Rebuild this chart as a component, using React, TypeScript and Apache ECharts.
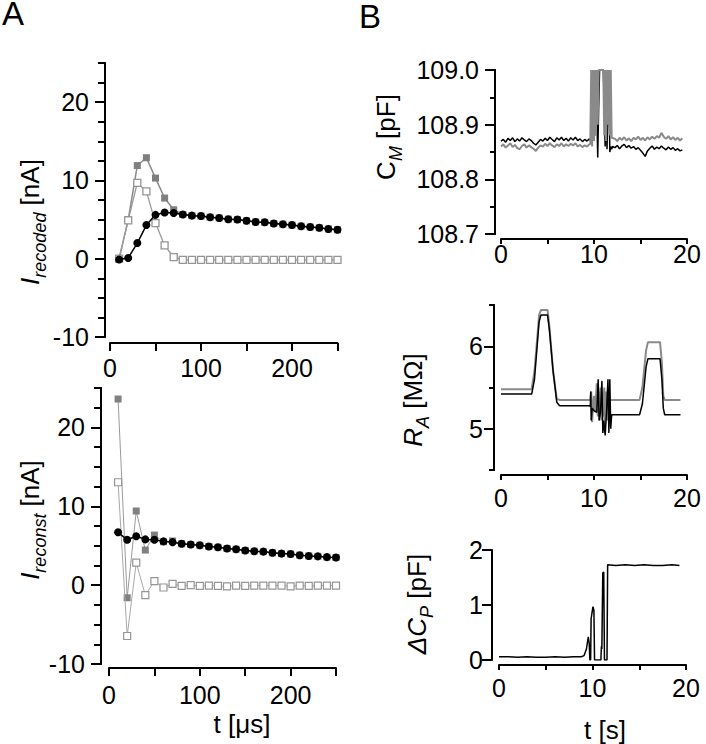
import React, { useEffect, useRef } from "react";
import * as echarts from "echarts";

const FONT = "'Liberation Sans', Arial, sans-serif";

// ---------- Panel A data ----------
const tA = [10, 20, 30, 40, 50, 60, 70, 80, 90, 100, 110, 120, 130, 140, 150, 160, 170, 180, 190, 200, 210, 220, 230, 240, 250];
const recBlack = [-0.1, 0.1, 2.0, 4.3, 5.6, 5.9, 5.85, 5.65, 5.5, 5.45, 5.3, 5.2, 5.05, 5.0, 4.85, 4.7, 4.65, 4.5, 4.4, 4.3, 4.15, 4.05, 3.95, 3.8, 3.7];
const recFilled = [0, 5.0, 11.9, 12.9, 10.3, 7.75, 6.25, 5.65, 5.5, 5.45, 5.3, 5.2, 5.05, 5.0, 4.85, 4.7, 4.65, 4.5, 4.4, 4.3, 4.15, 4.05, 3.95, 3.8, 3.7];
const recOpen = [0, 4.9, 9.7, 8.6, 4.55, 1.7, 0.2, -0.15, -0.15, -0.15, -0.15, -0.15, -0.15, -0.15, -0.15, -0.15, -0.15, -0.15, -0.15, -0.15, -0.15, -0.15, -0.15, -0.15, -0.15];

const conBlack = [6.7, 5.75, 6.2, 5.8, 5.75, 5.55, 5.45, 5.25, 5.15, 5.05, 4.9, 4.8, 4.65, 4.55, 4.4, 4.3, 4.25, 4.1, 4.0, 3.95, 3.8, 3.7, 3.65, 3.55, 3.5];
const conFilled = [23.6, -1.6, 9.4, 4.45, 6.35, 5.5, 5.6, 5.25, 5.15, 5.05, 4.9, 4.8, 4.65, 4.55, 4.4, 4.3, 4.25, 4.1, 4.0, 3.95, 3.8, 3.7, 3.65, 3.55, 3.5];
const conOpen = [13.05, -6.45, 2.85, -1.27, 0.5, -0.3, 0.15, -0.1, 0.0, -0.1, -0.05, -0.1, -0.15, -0.05, -0.1, -0.05, -0.05, -0.05, -0.05, -0.15, -0.05, -0.1, -0.05, -0.05, -0.05];

const yTicksA = [-10, -7.5, -5, -2.5, 0, 2.5, 5, 7.5, 10, 12.5, 15, 17.5, 20, 22.5, 25];
const yLabelsA = [-10, 0, 10, 20];
const xTicksA = [0, 50, 100, 150, 200, 250];
const xLabelsA = [0, 100, 200];

// ---------- Panel B data ----------
const cmTime = [0, 0.25, 0.5, 0.75, 1, 1.25, 1.5, 1.75, 2, 2.25, 2.5, 2.75, 3, 3.25, 3.5, 3.75, 4, 4.25, 4.5, 4.75, 5, 5.25, 5.5, 5.75, 6, 6.25, 6.5, 6.75, 7, 7.25, 7.5, 7.75, 8, 8.25, 8.5, 8.75, 9, 9.25, 9.5,
  9.6, 9.7, 9.8, 9.9, 10, 10.1, 10.2, 10.3, 10.4, 10.5, 10.6, 10.7, 10.8, 10.9, 11, 11.1, 11.2, 11.3, 11.4, 11.5, 11.6, 11.7, 11.8, 11.9, 12,
  12.25, 12.5, 12.75, 13, 13.25, 13.5, 13.75, 14, 14.25, 14.5, 14.75, 15, 15.25, 15.5, 15.75, 16, 16.25, 16.5, 16.75, 17, 17.25, 17.5, 17.75, 18, 18.25, 18.5, 18.75, 19, 19.25, 19.5];
const cmBlack = [108.870, 108.873, 108.868, 108.875, 108.871, 108.876, 108.869, 108.874, 108.870, 108.876, 108.872, 108.869, 108.874, 108.871, 108.866, 108.863, 108.868, 108.873, 108.870, 108.875, 108.871, 108.877, 108.873, 108.869, 108.876, 108.872, 108.877, 108.871, 108.875, 108.870, 108.876, 108.872, 108.877, 108.871, 108.874, 108.869, 108.873, 108.870, 108.874,
  108.872, 108.876, 109.0, 108.87, 109.0, 108.88, 109.0, 108.93, 108.84, 108.93, 109.0, 109.0, 109.0, 109.0, 109.0, 108.94, 108.86, 108.94, 108.855, 108.93, 109.0, 108.85, 108.86, 108.855, 108.86,
  108.858, 108.862, 108.856, 108.861, 108.864, 108.858, 108.862, 108.857, 108.860, 108.855, 108.858, 108.853, 108.848, 108.842, 108.852, 108.857, 108.861, 108.855, 108.859, 108.856, 108.861, 108.857, 108.854, 108.859, 108.855, 108.858, 108.853, 108.856, 108.852, 108.854];
const cmGray = [108.860, 108.864, 108.858, 108.862, 108.866, 108.859, 108.863, 108.857, 108.855, 108.861, 108.864, 108.858, 108.862, 108.859, 108.856, 108.852, 108.858, 108.862, 108.860, 108.865, 108.861, 108.866, 108.862, 108.859, 108.864, 108.861, 108.866, 108.860, 108.864, 108.861, 108.865, 108.862, 108.866, 108.860, 108.863, 108.859, 108.862, 108.860, 108.864,
  108.865, 109.0, 108.86, 109.0, 108.87, 109.0, 108.88, 109.0, 108.9, 109.0, 109.0, 109.0, 109.0, 109.0, 109.0, 108.88, 109.0, 108.87, 109.0, 108.9, 109.0, 108.88, 109.0, 108.875, 108.876,
  108.874, 108.870, 108.876, 108.872, 108.877, 108.871, 108.875, 108.870, 108.876, 108.873, 108.878, 108.872, 108.876, 108.871, 108.877, 108.873, 108.878, 108.874, 108.879, 108.876, 108.885, 108.878, 108.874, 108.879, 108.873, 108.877, 108.872, 108.876, 108.871, 108.875];
const cmTicks = [108.7, 108.75, 108.8, 108.85, 108.9, 108.95, 109.0];
const cmLabels = [108.7, 108.8, 108.9, 109.0];

const raTimeBlack = [0, 3.3, 3.6, 4.1, 4.3, 5.0, 5.2, 5.6, 6.0, 6.3,
  9.5, 9.6, 9.65, 9.7, 9.8, 10.0, 10.3, 10.45, 10.55, 10.7, 10.85, 10.95, 11.05, 11.2, 11.35, 11.5, 11.6, 11.7, 11.8, 11.9, 12.0,
  14.9, 15.2, 15.6, 15.8, 17.1, 17.3, 17.45, 17.6, 19.3];
const raBlack = [5.42, 5.42, 5.6, 6.3, 6.38, 6.38, 6.2, 5.7, 5.32, 5.28,
  5.28, 5.27, 5.45, 5.1, 5.25, 5.22, 5.2, 5.6, 5.1, 5.2, 5.58, 4.95, 5.1, 4.92, 5.2, 5.6, 4.95, 5.6, 5.0, 5.17, 5.17,
  5.17, 5.3, 5.75, 5.85, 5.85, 5.6, 5.25, 5.17, 5.17];
const raTimeGray = [0, 3.3, 3.6, 4.1, 4.3, 5.0, 5.2, 5.6, 6.0, 6.3,
  9.5, 9.6, 9.7, 9.8, 9.9, 10.0, 10.1, 10.2, 10.3, 10.4, 10.5, 10.6, 10.7, 10.8, 10.9, 11.0, 11.1, 11.2, 11.3, 11.4, 11.5, 11.6, 11.7, 11.8, 11.9, 12.0,
  14.9, 15.2, 15.6, 15.8, 17.1, 17.3, 17.45, 17.6, 19.3];
const raGray = [5.48, 5.48, 5.7, 6.38, 6.44, 6.44, 6.25, 5.7, 5.36, 5.35,
  5.35, 5.35, 5.45, 5.08, 5.3, 5.4, 5.2, 5.35, 5.55, 5.15, 5.45, 5.2, 5.5, 5.1, 5.45, 5.15, 5.5, 5.05, 5.45, 5.1, 5.5, 5.15, 5.35, 5.35, 5.35, 5.35,
  5.35, 5.5, 5.95, 6.05, 6.05, 5.8, 5.4, 5.35, 5.35];
const raTicks = [4.5, 5.5, 6.5];
const raLabels = [5, 6];

const dcpTime = [0, 1, 2, 3, 4, 5, 6, 7, 8, 8.8, 9.1, 9.35, 9.55, 9.65, 9.72, 9.8, 9.85, 10.05, 10.15, 10.22, 10.9, 10.95, 11.0, 11.1, 11.2, 11.28, 11.55, 11.62, 12.5, 13.5, 14.5, 15.5, 16.5, 17.5, 18.5, 19.3];
const dcpVal = [0.06, 0.06, 0.05, 0.06, 0.05, 0.05, 0.06, 0.05, 0.06, 0.06, 0.08, 0.2, 0.42, 0.3, 0, 0, 0.75, 0.97, 0.9, 0, 0, 0.25, 0.2, 1.58, 1.6, 0, 0, 1.73, 1.72, 1.73, 1.72, 1.73, 1.72, 1.72, 1.73, 1.72];
const dcpTicks = [0, 1, 2];

const xTicksB = [0, 5, 10, 15, 20];
const xLabelsB = [0, 10, 20];

const zip = (xs: number[], ys: number[]) => xs.map((x, i) => [x, ys[i]]);

const lbl = { color: "#000", fontSize: 25, fontFamily: FONT };
const axLine = { show: true, onZero: false, lineStyle: { color: "#000", width: 2 } };

function xAxisOf(grid: number, min: number, max: number, ticks: number[], labels: number[], offset: number, tickLen: number, margin: number) {
  return {
    type: "value", gridIndex: grid, min, max, offset, position: "bottom",
    axisLine: axLine,
    axisTick: { show: true, customValues: ticks, length: tickLen, lineStyle: { color: "#000", width: 2 } },
    axisLabel: { ...lbl, customValues: labels, margin },
    splitLine: { show: false },
  };
}
function yMinor(grid: number, min: number, max: number, ticks: number[], offset: number, len: number) {
  return {
    type: "value", gridIndex: grid, min, max, offset, position: "left",
    axisLine: axLine,
    axisTick: { show: true, customValues: ticks, length: len, lineStyle: { color: "#000", width: 2 } },
    axisLabel: { show: false },
    splitLine: { show: false },
  };
}
function yMajor(grid: number, min: number, max: number, ticks: number[], offset: number, len: number, margin: number, fmt?: (v: number) => string) {
  return {
    type: "value", gridIndex: grid, min, max, offset, position: "left",
    axisLine: axLine,
    axisTick: { show: true, customValues: ticks, length: len, lineStyle: { color: "#000", width: 2 } },
    axisLabel: { ...lbl, customValues: ticks, margin, formatter: fmt },
    splitLine: { show: false },
  };
}

const richStyles = {
  m: { fontSize: 26, fontFamily: FONT, color: "#000", lineHeight: 32, verticalAlign: "top" },
  mi: { fontSize: 26, fontFamily: FONT, fontStyle: "italic", color: "#000", lineHeight: 32, verticalAlign: "top" },
  s: { fontSize: 18, fontFamily: FONT, fontStyle: "italic", color: "#000", lineHeight: 18, padding: [14, 0, 0, 0], verticalAlign: "top" },
};

function vTitle(x: number, y: number, text: string) {
  return {
    type: "text", x, y, rotation: Math.PI / 2,
    style: { text, rich: richStyles, align: "center", verticalAlign: "middle" },
  };
}

export default function App() {
  const ref = useRef<HTMLDivElement>(null);
  useEffect(() => {
    const chart = echarts.init(ref.current!, null, { renderer: "svg" });
    const option: any = {
      animation: false,
      backgroundColor: "#fff",
      textStyle: { fontFamily: FONT },
      grid: [
        { left: 110, top: 63, width: 227.5, height: 274 },
        { left: 109, top: 388, width: 227, height: 276 },
        { left: 501, top: 70, width: 186, height: 164 },
        { left: 501, top: 305, width: 186, height: 165 },
        { left: 499, top: 550, width: 187, height: 110 },
      ],
      xAxis: [
        xAxisOf(0, 0, 250, xTicksA, xLabelsA, 6, 8, 12),
        xAxisOf(1, 0, 250, xTicksA, xLabelsA, 4, 8, 14),
        xAxisOf(2, 0, 20, xTicksB, xLabelsB, 5, 5, 2),
        xAxisOf(3, 0, 20, xTicksB, xLabelsB, 5, 5, 10),
        xAxisOf(4, 0, 20, xTicksB, xLabelsB, 5, 5, 10),
      ],
      yAxis: [
        yMinor(0, -10, 25, yTicksA, 5, 7),
        yMajor(0, -10, 25, yLabelsA, 5, 10, 16),
        yMinor(1, -10, 25, yTicksA, 8, 7),
        yMajor(1, -10, 25, yLabelsA, 8, 10, 16),
        yMinor(2, 108.7, 109.0, cmTicks, 6, 5),
        yMajor(2, 108.7, 109.0, cmLabels, 6, 10, 16, (v: number) => v.toFixed(1)),
        yMinor(3, 4.5, 6.5, raTicks, 7, 5),
        yMajor(3, 4.5, 6.5, raLabels, 7, 10, 11),
        yMajor(4, 0, 2, dcpTicks, 7, 10, 9),
      ],
      series: [
        // Panel A top
        { type: "line", xAxisIndex: 0, yAxisIndex: 0, data: zip(tA, recFilled), symbol: "rect", symbolSize: 7, showAllSymbol: true,
          itemStyle: { color: "#7f7f7f" }, lineStyle: { color: "#8a8a8a", width: 1.5 }, z: 2 },
        { type: "line", xAxisIndex: 0, yAxisIndex: 0, data: zip(tA, recOpen), symbol: "rect", symbolSize: 7, showAllSymbol: true,
          itemStyle: { color: "#fff", borderColor: "#959595", borderWidth: 1.3 }, lineStyle: { color: "#9a9a9a", width: 1.3 }, z: 3 },
        { type: "line", xAxisIndex: 0, yAxisIndex: 0, data: zip(tA, recBlack), symbol: "circle", symbolSize: 8, showAllSymbol: true,
          itemStyle: { color: "#000" }, lineStyle: { color: "#000", width: 1.5 }, z: 4 },
        // Panel A bottom
        { type: "line", xAxisIndex: 1, yAxisIndex: 2, data: zip(tA, conFilled), symbol: "rect", symbolSize: 7, showAllSymbol: true,
          itemStyle: { color: "#808080" }, lineStyle: { color: "#9a9a9a", width: 1 }, z: 2 },
        { type: "line", xAxisIndex: 1, yAxisIndex: 2, data: zip(tA, conOpen), symbol: "rect", symbolSize: 7, showAllSymbol: true,
          itemStyle: { color: "#fff", borderColor: "#959595", borderWidth: 1.2 }, lineStyle: { color: "#a8a8a8", width: 1 }, z: 3 },
        { type: "line", xAxisIndex: 1, yAxisIndex: 2, data: zip(tA, conBlack), symbol: "circle", symbolSize: 8, showAllSymbol: true,
          itemStyle: { color: "#000" }, lineStyle: { color: "#000", width: 1.5 }, z: 4 },
        // Panel B: C_M
        { type: "line", xAxisIndex: 2, yAxisIndex: 4, data: zip(cmTime, cmBlack), showSymbol: false, lineStyle: { color: "#000", width: 1.5 }, z: 2 },
        { type: "line", xAxisIndex: 2, yAxisIndex: 4, data: zip(cmTime, cmGray), showSymbol: false, lineStyle: { color: "#8a8a8a", width: 2 }, z: 3 },
        // Panel B: R_A
        { type: "line", xAxisIndex: 3, yAxisIndex: 6, data: zip(raTimeGray, raGray), showSymbol: false, lineStyle: { color: "#8a8a8a", width: 2 }, z: 2 },
        { type: "line", xAxisIndex: 3, yAxisIndex: 6, data: zip(raTimeBlack, raBlack), showSymbol: false, lineStyle: { color: "#000", width: 1.5 }, z: 3 },
        // Panel B: dC_P
        { type: "line", xAxisIndex: 4, yAxisIndex: 8, data: zip(dcpTime, dcpVal), showSymbol: false, lineStyle: { color: "#000", width: 1.5 }, z: 2 },
      ],
      graphic: [
        { type: "text", x: 2, y: -3, style: { text: "A", fontSize: 33, fontFamily: FONT, fill: "#000", align: "left", verticalAlign: "top" } },
        { type: "text", x: 359, y: 0, style: { text: "B", fontSize: 33, fontFamily: FONT, fill: "#000", align: "left", verticalAlign: "top" } },
        vTitle(33, 222, "{mi|I}{s|recoded}{m| [nA]}"),
        vTitle(33, 520, "{mi|I}{s|reconst}{m| [nA]}"),
        vTitle(389, 137, "{m|C}{s|M}{m| [pF]}"),
        vTitle(416, 400, "{mi|R}{s|A}{m| [MΩ]}"),
        vTitle(420, 604, "{mi|ΔC}{s|P}{m| [pF]}"),
        { type: "text", x: 242, y: 724, style: { text: "t [μs]", fontSize: 26, fontFamily: FONT, fill: "#000", align: "center", verticalAlign: "middle" } },
        { type: "text", x: 605, y: 730, style: { text: "t [s]", fontSize: 26, fontFamily: FONT, fill: "#000", align: "center", verticalAlign: "middle" } },
      ],
    };
    chart.setOption(option);
    return () => chart.dispose();
  }, []);
  return <div ref={ref} style={{ position: "fixed", left: 0, top: 0, width: 706, height: 744, background: "#fff" }} />;
}
